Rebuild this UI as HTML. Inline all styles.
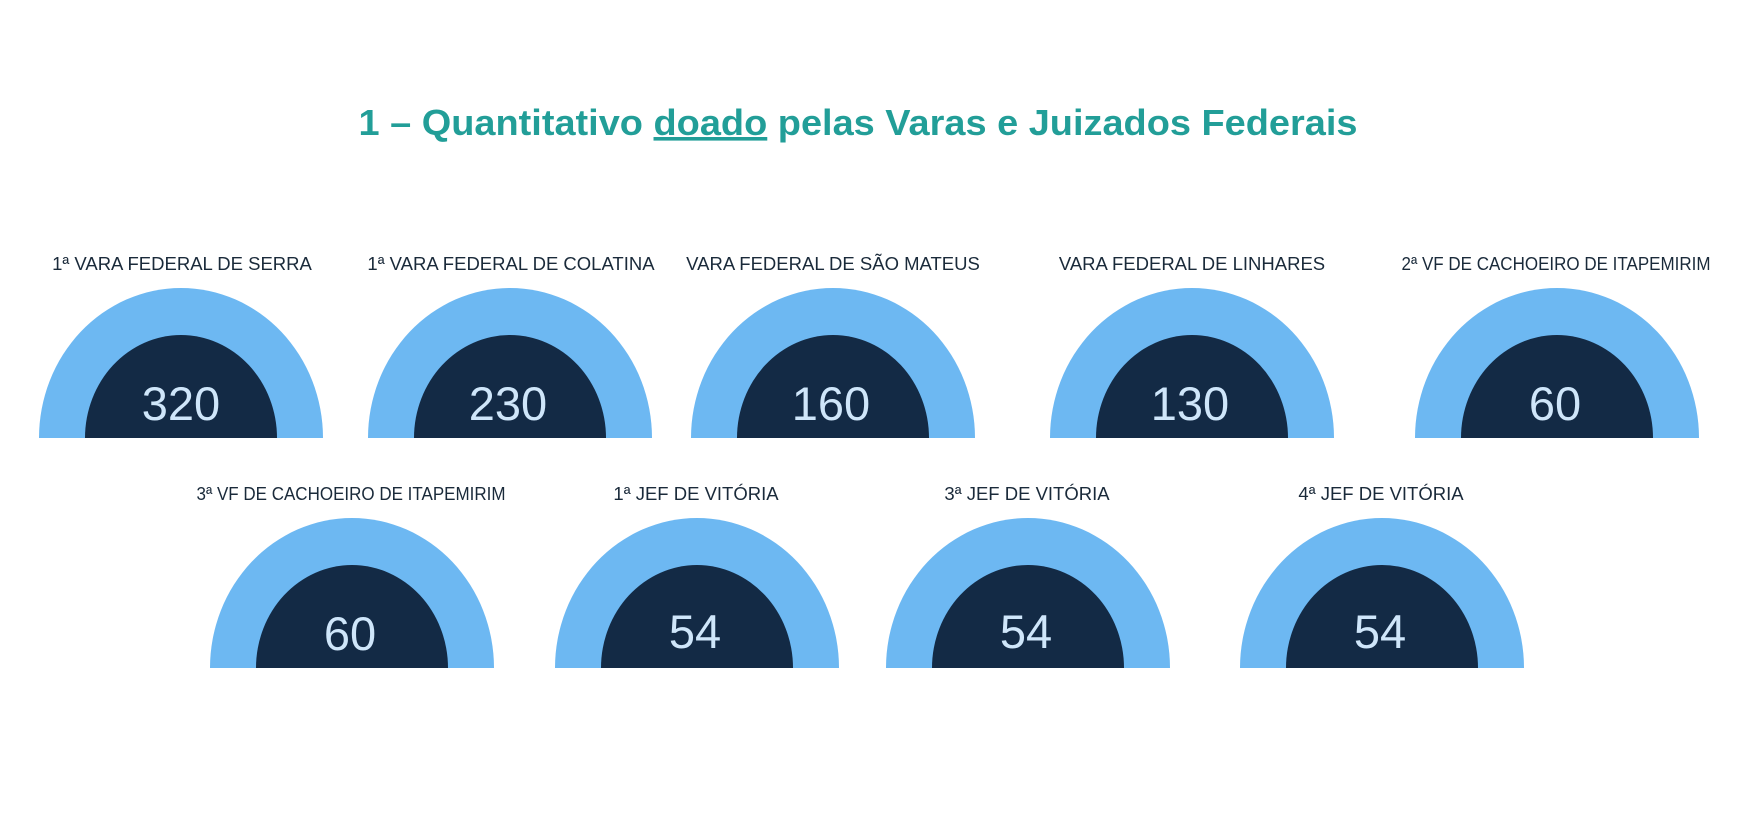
<!DOCTYPE html>
<html><head><meta charset="utf-8"><style>
html,body{margin:0;padding:0;background:#fff;width:1756px;height:820px;overflow:hidden}
</style></head><body>
<svg width="1756" height="820" viewBox="0 0 1756 820" xmlns="http://www.w3.org/2000/svg">
<text x="858" y="135" text-anchor="middle" font-family="Liberation Sans, sans-serif" font-weight="bold" font-size="36" fill="#229e98" textLength="999" lengthAdjust="spacingAndGlyphs">1 – Quantitativo <tspan text-decoration="underline">doado</tspan> pelas Varas e Juizados Federais</text>
<defs>
<clipPath id="c1"><rect x="0" y="0" width="1756" height="438"/></clipPath>
<clipPath id="c2"><rect x="0" y="0" width="1756" height="668"/></clipPath>
</defs>
<g clip-path="url(#c1)">
<ellipse cx="181" cy="438" rx="142" ry="150" fill="#6db8f2"/><ellipse cx="181" cy="438" rx="96" ry="103" fill="#132a45"/>
<ellipse cx="510" cy="438" rx="142" ry="150" fill="#6db8f2"/><ellipse cx="510" cy="438" rx="96" ry="103" fill="#132a45"/>
<ellipse cx="833" cy="438" rx="142" ry="150" fill="#6db8f2"/><ellipse cx="833" cy="438" rx="96" ry="103" fill="#132a45"/>
<ellipse cx="1192" cy="438" rx="142" ry="150" fill="#6db8f2"/><ellipse cx="1192" cy="438" rx="96" ry="103" fill="#132a45"/>
<ellipse cx="1557" cy="438" rx="142" ry="150" fill="#6db8f2"/><ellipse cx="1557" cy="438" rx="96" ry="103" fill="#132a45"/>
</g>
<g clip-path="url(#c2)">
<ellipse cx="352" cy="668" rx="142" ry="150" fill="#6db8f2"/><ellipse cx="352" cy="668" rx="96" ry="103" fill="#132a45"/>
<ellipse cx="697" cy="668" rx="142" ry="150" fill="#6db8f2"/><ellipse cx="697" cy="668" rx="96" ry="103" fill="#132a45"/>
<ellipse cx="1028" cy="668" rx="142" ry="150" fill="#6db8f2"/><ellipse cx="1028" cy="668" rx="96" ry="103" fill="#132a45"/>
<ellipse cx="1382" cy="668" rx="142" ry="150" fill="#6db8f2"/><ellipse cx="1382" cy="668" rx="96" ry="103" fill="#132a45"/>
</g>
<g font-family="Liberation Sans, sans-serif" font-size="18.5" fill="#1a2a3a" text-anchor="middle">
<text x="182" y="270">1ª VARA FEDERAL DE SERRA</text>
<text x="511" y="270">1ª VARA FEDERAL DE COLATINA</text>
<text x="833" y="270">VARA FEDERAL DE SÃO MATEUS</text>
<text x="1192" y="270">VARA FEDERAL DE LINHARES</text>
<text x="1556" y="270" textLength="309" lengthAdjust="spacingAndGlyphs">2ª VF DE CACHOEIRO DE ITAPEMIRIM</text>
<text x="351" y="500" textLength="309" lengthAdjust="spacingAndGlyphs">3ª VF DE CACHOEIRO DE ITAPEMIRIM</text>
<text x="696" y="500">1ª JEF DE VITÓRIA</text>
<text x="1027" y="500">3ª JEF DE VITÓRIA</text>
<text x="1381" y="500">4ª JEF DE VITÓRIA</text>
</g>
<g font-family="Liberation Sans, sans-serif" font-size="47" fill="#cfe6fa" text-anchor="middle">
<text x="181" y="420">320</text>
<text x="508" y="420">230</text>
<text x="831" y="420">160</text>
<text x="1190" y="420">130</text>
<text x="1555" y="420">60</text>
<text x="350" y="650">60</text>
<text x="695" y="648">54</text>
<text x="1026" y="648">54</text>
<text x="1380" y="648">54</text>
</g>
</svg>
</body></html>
